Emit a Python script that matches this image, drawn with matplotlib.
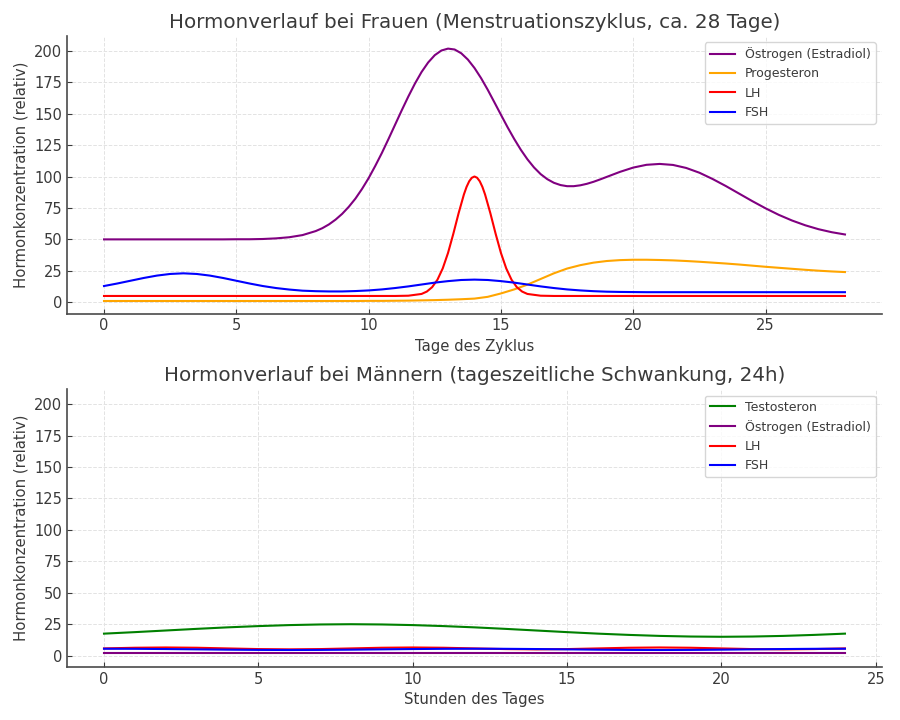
import matplotlib
matplotlib.use("Agg")
import matplotlib.pyplot as plt

# ---------------- Frauen: Menstruationszyklus ----------------
tage = [0.0, 0.5, 1.0, 1.5, 2.0, 2.5, 3.0, 3.5, 4.0, 4.5, 5.0, 5.5, 6.0, 6.5,
        7.0, 7.5, 8.0, 8.5, 9.0, 9.5, 10.0, 10.5, 11.0, 11.5, 12.0, 12.5, 13.0,
        13.5, 14.0, 14.5, 15.0, 15.5, 16.0, 16.5, 17.0, 17.5, 18.0, 18.5, 19.0,
        19.5, 20.0, 20.5, 21.0, 21.5, 22.0, 22.5, 23.0, 23.5, 24.0, 24.5, 25.0,
        25.5, 26.0, 26.5, 27.0, 27.5, 28.0]

oe_tage = ([0.0, 0.5, 1.0, 1.5, 2.0, 2.5, 3.0, 3.5, 4.0, 4.5, 5.0, 5.5, 6.0, 6.5,
            7.0, 7.5]
           + [8.0 + 0.25 * i for i in range(45)]
           + [19.5, 20.0, 20.5, 21.0, 21.5, 22.0, 22.5, 23.0, 23.5, 24.0, 24.5,
              25.0, 25.5, 26.0, 26.5, 27.0, 27.5, 28.0])
oestrogen_f = [50.0, 50.0, 50.0, 50.0, 50.0, 50.0, 50.0, 50.0, 50.0, 50.0, 50.1,
               50.1, 50.3, 50.8, 51.7, 53.4,
               56.6, 58.9, 61.9, 65.7, 70.3, 75.9, 82.4, 90.1, 98.7, 108.4, 118.7,
               129.8, 141.2, 152.6, 163.6, 173.9, 183.1, 190.7, 196.5, 200.2, 201.7,
               201.0, 198.0, 193.0, 186.3, 178.2, 169.0, 159.1, 149.1, 139.2, 129.9,
               121.3, 113.7, 107.2, 101.9, 97.9, 95.0, 93.2, 92.3, 92.3, 93.0, 94.2,
               95.8, 97.7, 99.7,
               103.7, 107.1, 109.3, 110.0, 109.2, 106.8, 103.0, 98.0, 92.4, 86.4,
               80.4, 74.7, 69.5, 65.0, 61.2, 58.1, 55.7, 53.9]

progesteron_f = [1.0, 1.0, 1.0, 1.0, 1.0, 1.0, 1.0, 1.0, 1.0, 1.0, 1.0, 1.0, 1.0,
                 1.0, 1.0, 1.0, 1.0, 1.0, 1.0, 1.0, 1.1, 1.1, 1.2, 1.3, 1.5, 1.7,
                 2.0, 2.4, 2.9, 4.3, 7.0, 10.2, 14.0, 18.5, 23.0, 26.8, 29.5, 31.5,
                 32.8, 33.5, 33.8, 33.8, 33.6, 33.3, 32.8, 32.2, 31.5, 30.8, 30.0,
                 29.1, 28.2, 27.4, 26.6, 25.8, 25.1, 24.5, 24.0]

fsh_f = [12.9, 14.9, 17.1, 19.3, 21.2, 22.5, 23.0, 22.5, 21.2, 19.3, 17.1, 14.9,
         12.9, 11.3, 10.1, 9.2, 8.8, 8.6, 8.6, 8.9, 9.4, 10.2, 11.3, 12.6, 14.1,
         15.6, 16.8, 17.7, 18.0, 17.7, 16.8, 15.6, 14.1, 12.6, 11.3, 10.2, 9.4,
         8.8, 8.4, 8.2, 8.1, 8.0, 8.0, 8.0, 8.0, 8.0, 8.0, 8.0, 8.0, 8.0, 8.0,
         8.0, 8.0, 8.0, 8.0, 8.0, 8.0]

lh_tage = [0, 1, 2, 3, 4, 5, 6, 7, 8, 9, 10, 11, 11.5, 12.0, 12.2, 12.4, 12.6,
           12.8, 13.0, 13.2, 13.4, 13.6, 13.7, 13.8, 13.9, 14.0, 14.1, 14.2,
           14.3, 14.4, 14.6, 14.8, 15.0, 15.2, 15.4, 15.6, 15.8, 16.0, 16.5,
           17, 18, 19, 20, 21, 22, 23, 24, 25, 26, 27, 28]
lh_f = [5.0, 5.0, 5.0, 5.0, 5.0, 5.0, 5.0, 5.0, 5.0, 5.0, 5.0, 5.0, 5.2, 6.6,
        8.5, 12.0, 17.9, 26.9, 39.2, 54.4, 70.8, 85.7, 91.7, 96.2, 99.0, 100.0,
        99.0, 96.2, 91.7, 85.7, 70.8, 54.4, 39.2, 26.9, 17.9, 12.0, 8.5, 6.6,
        5.2, 5.0, 5.0, 5.0, 5.0, 5.0, 5.0, 5.0, 5.0, 5.0, 5.0, 5.0, 5.0]

# ---------------- Männer: 24h-Schwankung ----------------
stunden = list(range(25))
testosteron_m = [17.5, 18.7, 20.0, 21.3, 22.5, 23.5, 24.3, 24.8, 25.0, 24.8, 24.3,
                 23.5, 22.5, 21.3, 20.0, 18.7, 17.5, 16.5, 15.7, 15.2, 15.0, 15.2,
                 15.7, 16.5, 17.5]
oestrogen_m = [2.3, 2.3, 2.3, 2.3, 2.3, 2.3, 2.3, 2.3, 2.3, 2.3, 2.3, 2.3, 2.3,
               2.3, 2.3, 2.3, 2.3, 2.3, 2.3, 2.3, 2.3, 2.3, 2.3, 2.3, 2.3]
lh_m = [5.75, 6.28, 6.5, 6.28, 5.75, 5.22, 5.0, 5.22, 5.75, 6.28, 6.5, 6.28, 5.75,
        5.22, 5.0, 5.22, 5.75, 6.28, 6.5, 6.28, 5.75, 5.22, 5.0, 5.22, 5.75]
fsh_m = [5.5, 5.43, 5.25, 5.0, 4.75, 4.57, 4.5, 4.57, 4.75, 5.0, 5.25, 5.43, 5.5,
         5.43, 5.25, 5.0, 4.75, 4.57, 4.5, 4.57, 4.75, 5.0, 5.25, 5.43, 5.5]

text_col = "#3a3a3a"
plt.rcParams.update({
    "font.family": ["DejaVu Sans"],
    "font.size": 10,
    "text.color": text_col,
    "axes.labelcolor": text_col,
    "xtick.color": text_col,
    "ytick.color": text_col,
    "axes.edgecolor": "#4a4a4a",
    "axes.linewidth": 1.2,
    "xtick.direction": "in",
    "ytick.direction": "in",
    "xtick.major.size": 3.5,
    "ytick.major.size": 3.5,
    "axes.spines.top": False,
    "axes.spines.right": False,
    "legend.edgecolor": "#cccccc",
})

fig, (ax1, ax2) = plt.subplots(2, 1, figsize=(9, 7.2), dpi=100, sharey=True)
fig.subplots_adjust(left=0.0744, right=0.98, top=0.95, bottom=0.0736, hspace=0.273)

ax1.plot(oe_tage, oestrogen_f, color="purple", lw=1.5, label="Östrogen (Estradiol)")
ax1.plot(tage, progesteron_f, color="orange", lw=1.5, label="Progesteron")
ax1.plot(lh_tage, lh_f, color="red", lw=1.5, label="LH")
ax1.plot(tage, fsh_f, color="blue", lw=1.5, label="FSH")
ax1.set_title("Hormonverlauf bei Frauen (Menstruationszyklus, ca. 28 Tage)",
              fontsize=14.3, color=text_col)
ax1.set_xlabel("Tage des Zyklus", fontsize=10.7)
ax1.set_ylabel("Hormonkonzentration (relativ)", fontsize=10.7)
ax1.legend(loc="upper right", fontsize=9)

ax2.plot(stunden, testosteron_m, color="green", lw=1.5, label="Testosteron")
ax2.plot(stunden, oestrogen_m, color="purple", lw=1.5, label="Östrogen (Estradiol)")
ax2.plot(stunden, lh_m, color="red", lw=1.5, label="LH")
ax2.plot(stunden, fsh_m, color="blue", lw=1.5, label="FSH")
ax2.set_title("Hormonverlauf bei Männern (tageszeitliche Schwankung, 24h)",
              fontsize=14.3, color=text_col)
ax2.set_xlabel("Stunden des Tages", fontsize=10.7)
ax2.set_ylabel("Hormonkonzentration (relativ)", fontsize=10.7)
ax2.legend(loc="upper right", fontsize=9)

for ax in (ax1, ax2):
    ax.grid(True, color="#e3e3e3", linestyle="--", linewidth=0.7)
    ax.set_axisbelow(True)
    ax.tick_params(axis="both", labelsize=10.5)

fig.savefig("out.png", dpi=100)
